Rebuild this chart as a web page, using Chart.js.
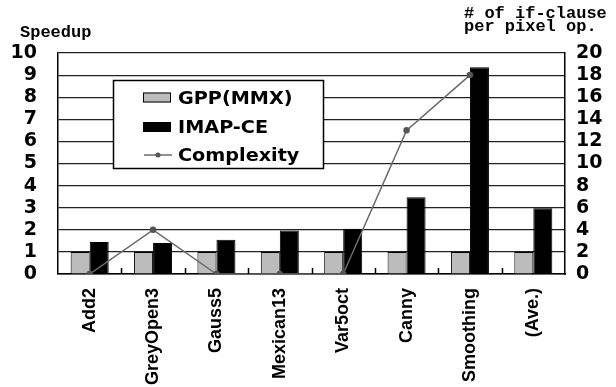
<!DOCTYPE html>
<html>
<head>
<meta charset="utf-8">
<script src="https://cdn.jsdelivr.net/npm/chart.js@4"></script>
<style>
  html, body { margin: 0; padding: 0; background: #fff; }
  #wrap { width: 616px; height: 387px; }
</style>
</head>
<body>
<div id="wrap"><canvas id="c" width="616" height="387"></canvas></div>
<script>
const categories = ["Add2", "GreyOpen3", "Gauss5", "Mexican13", "Var5oct", "Canny", "Smoothing", "(Ave.)"];
const gppValues = [1, 1, 1, 1, 1, 1, 1, 1];
const imapValues = [1.45, 1.4, 1.55, 1.97, 2.05, 3.47, 9.35, 2.98];
const complexityValues = [0, 4, 0, 0, 0, 13, 18, null];
const speedupTicks = [0, 1, 2, 3, 4, 5, 6, 7, 8, 9, 10];
const complexityTicks = [0, 2, 4, 6, 8, 10, 12, 14, 16, 18, 20];

const tickFont = { family: "'DejaVu Sans', sans-serif", size: 19, weight: "bold" };

// titles, legend box and the little category ticks
const extras = {
  id: "extras",
  afterDraw(chart) {
    const ctx = chart.ctx;
    const area = chart.chartArea;
    const xs = chart.scales.x;
    ctx.save();

    // small tick marks between categories, pointing up from the axis
    ctx.strokeStyle = "#000";
    ctx.lineWidth = 1.5;
    for (let i = 1; i < categories.length; i++) {
      const x = Math.round((xs.getPixelForValue(i - 1) + xs.getPixelForValue(i)) / 2) + 0.5;
      ctx.beginPath();
      ctx.moveTo(x, area.bottom);
      ctx.lineTo(x, area.bottom - 6);
      ctx.stroke();
    }

    // axis titles
    ctx.fillStyle = "#000";
    ctx.font = "bold 17px 'Liberation Mono', 'DejaVu Sans Mono', monospace";
    ctx.textBaseline = "alphabetic";
    ctx.textAlign = "left";
    ctx.fillText("Speedup", 20, 37);
    ctx.font = "bold 17px 'Liberation Mono', 'DejaVu Sans Mono', monospace";
    ctx.fillText("# of if-clause", 464, 18);
    ctx.fillText("per pixel op.", 464, 31);

    // legend
    const lx = 113, ly = 80, lw = 210, lh = 88;
    ctx.fillStyle = "#fff";
    ctx.fillRect(lx, ly, lw, lh);
    ctx.strokeStyle = "#000";
    ctx.lineWidth = 1.5;
    ctx.strokeRect(lx + 0.5, ly + 0.5, lw, lh);

    const ds = chart.data.datasets;
    const rows = [97.5, 127, 155];
    ds.forEach((d, i) => {
      const cy = rows[i];
      if (d.type === "line") {
        ctx.strokeStyle = d.borderColor;
        ctx.lineWidth = 1.5;
        ctx.beginPath();
        ctx.moveTo(144, cy);
        ctx.lineTo(172, cy);
        ctx.stroke();
        ctx.fillStyle = d.pointBackgroundColor;
        ctx.beginPath();
        ctx.arc(158, cy, 2.5, 0, Math.PI * 2);
        ctx.fill();
      } else {
        ctx.fillStyle = d.backgroundColor;
        ctx.fillRect(143, cy - 5, 28, 10);
        ctx.strokeStyle = "#000";
        ctx.lineWidth = 1;
        ctx.strokeRect(143.5, cy - 4.5, 27, 9);
      }
      ctx.save();
      ctx.translate(178, cy + 6);
      ctx.scale(1.13, 1);
      ctx.fillStyle = "#000";
      ctx.font = "bold 17px 'DejaVu Sans', sans-serif";
      ctx.fillText(d.label, 0, 0);
      ctx.restore();
    });
    ctx.restore();
  }
};

new Chart(document.getElementById("c"), {
  type: "bar",
  data: {
    labels: categories,
    datasets: [
      {
        label: "GPP(MMX)",
        data: gppValues,
        backgroundColor: "#bcbcbc",
        borderColor: "#000",
        borderWidth: 1,
        yAxisID: "y",
        order: 2
      },
      {
        label: "IMAP-CE",
        data: imapValues,
        backgroundColor: "#000",
        borderColor: "#000",
        borderWidth: 1,
        yAxisID: "y",
        order: 2
      },
      {
        type: "line",
        label: "Complexity",
        data: complexityValues,
        borderColor: "#6a6a6a",
        borderWidth: 1.5,
        pointRadius: 2.5,
        pointBackgroundColor: "#555",
        pointBorderColor: "#555",
        tension: 0,
        spanGaps: false,
        yAxisID: "y1",
        order: 1
      }
    ]
  },
  options: {
    responsive: false,
    animation: false,
    layout: { padding: { top: 53, left: 0, right: 0, bottom: 0 } },
    plugins: { legend: { display: false }, tooltip: { enabled: false } },
    datasets: { bar: { barPercentage: 1, categoryPercentage: 0.6 } },
    scales: {
      x: {
        grid: { display: false },
        border: { color: "#000", width: 1.5 },
        ticks: {
          color: "#000",
          autoSkip: false,
          minRotation: 90,
          maxRotation: 90,
          padding: 6,
          font: { family: "'Liberation Sans', Arial, sans-serif", size: 18, weight: "bold" }
        },
        afterFit(s) { s.height = 113; }
      },
      y: {
        position: "left",
        min: 0,
        max: 10,
        afterBuildTicks(s) { s.ticks = speedupTicks.map(v => ({ value: v })); },
        grid: { color: "#222", lineWidth: 1.2, drawTicks: false },
        border: { color: "#000", width: 1.5 },
        ticks: { color: "#000", autoSkip: false, padding: 21, font: tickFont },
        afterFit(s) { s.width = 58; }
      },
      y1: {
        position: "right",
        min: 0,
        max: 20,
        afterBuildTicks(s) { s.ticks = complexityTicks.map(v => ({ value: v })); },
        grid: { display: false, drawTicks: false },
        border: { color: "#000", width: 1.5 },
        ticks: { color: "#000", autoSkip: false, padding: 11, font: tickFont },
        afterFit(s) { s.width = 51; }
      }
    }
  },
  plugins: [extras]
});
</script>
</body>
</html>
